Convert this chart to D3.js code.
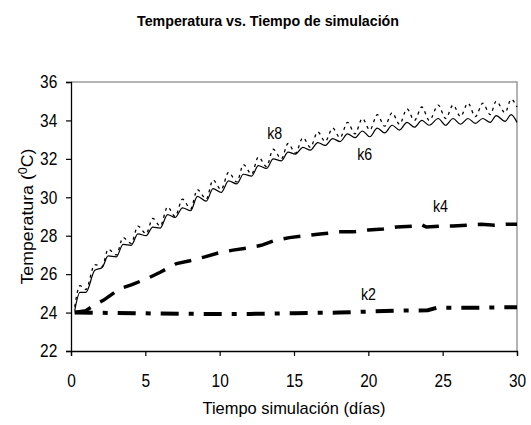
<!DOCTYPE html>
<html>
<head>
<meta charset="utf-8">
<script src="https://cdn.jsdelivr.net/npm/d3@7"></script>
<style>
  body { margin: 0; background: #fff; }
  text { font-family: "Liberation Sans", Arial, sans-serif; fill: #000; }
</style>
</head>
<body>
<div id="chart"></div>
<script>
// Days for the two thin curves (k6, k8)
var dayFine = [0.25, 0.6, 1.0, 1.6, 2.1, 2.5, 3.05, 3.5, 4.05, 4.5, 5.05, 5.5, 6.0, 6.5, 7.0, 7.5,
  8.05, 8.5, 9.1, 9.55, 10.1, 10.6, 11.15, 11.6, 12.15, 12.6, 13.15, 13.6, 14.15, 14.6, 15.1, 15.6,
  16.1, 16.6, 17.1, 17.6, 18.1, 18.6, 19.1, 19.6, 20.1, 20.6, 21.1, 21.6, 22.1, 22.6, 23.1, 23.6,
  24.1, 24.7, 25.2, 25.7, 26.2, 26.7, 27.2, 27.7, 28.2, 28.6, 29.2, 29.6, 30];
var k6 = [24.1, 25.05, 25.05, 26.2, 26.35, 26.95, 26.9, 27.55, 27.5, 28.1, 28.0, 28.45, 28.4, 29.1, 28.95, 29.45,
  29.3, 30.05, 29.8, 30.45, 30.25, 30.85, 30.7, 31.2, 31.1, 31.65, 31.5, 32.0, 31.9, 32.35, 32.25, 32.6,
  32.45, 32.85, 32.7, 33.05, 32.9, 33.3, 33.1, 33.45, 33.15, 33.6, 33.35, 33.75, 33.5, 33.9, 33.65, 34.0,
  33.75, 34.1, 33.75, 34.1, 33.8, 34.1, 33.85, 34.1, 33.9, 34.25, 33.95, 34.3, 33.9];
var k8 = [24.3, 25.4, 25.2, 26.5, 26.4, 27.3, 27.0, 27.9, 27.6, 28.5, 28.1, 28.9, 28.5, 29.5, 29.0, 29.9,
  29.4, 30.4, 29.9, 30.9, 30.4, 31.3, 30.8, 31.7, 31.2, 32.1, 31.6, 32.5, 32.0, 32.8, 32.3, 33.1,
  32.6, 33.4, 32.9, 33.6, 33.1, 33.9, 33.3, 34.1, 33.5, 34.3, 33.7, 34.4, 33.8, 34.6, 34.0, 34.7,
  34.0, 34.8, 34.1, 34.8, 34.2, 34.9, 34.2, 34.9, 34.3, 35.0, 34.4, 35.1, 34.7];

var dayK4 = [0.25, 1.0, 1.5, 2.2, 3.3, 4.1, 5.2, 6.0, 7.1, 8.0, 9.0, 9.9, 10.9, 11.8, 12.8, 13.7, 14.7,
  15.8, 16.9, 18.1, 19.0, 20.0, 21.0, 21.9, 23.0, 23.5, 23.9, 24.8, 25.7, 26.6, 27.6, 28.5, 29.3, 30];
var k4 = [24.0, 24.1, 24.35, 24.65, 25.25, 25.45, 25.8, 26.1, 26.55, 26.7, 26.9, 27.1, 27.25, 27.35, 27.5, 27.75, 27.9,
  28.0, 28.1, 28.2, 28.2, 28.3, 28.35, 28.45, 28.5, 28.6, 28.45, 28.5, 28.5, 28.55, 28.6, 28.55, 28.6, 28.6];

var dayK2 = [0.25, 3, 6, 9, 12, 15, 18, 20, 22, 24, 24.6, 27, 30];
var k2 = [24.0, 23.98, 23.95, 23.93, 23.93, 23.97, 24.0, 24.05, 24.1, 24.12, 24.25, 24.25, 24.28];

var xTicks = [0, 5, 10, 15, 20, 25, 30];
var yTicks = [22, 24, 26, 28, 30, 32, 34, 36];

var width = 531, height = 425;
var margin = {top: 82, left: 71, right: 14, bottom: 74};

var svg = d3.select("#chart").append("svg")
  .attr("width", width)
  .attr("height", height);

var x = d3.scaleLinear().domain([0, 30]).range([margin.left, width - margin.right]);
var y = d3.scaleLinear().domain([22, 36]).range([height - margin.bottom, margin.top]);

// grey frame on top and right
svg.append("path")
  .attr("d", "M" + x(0) + "," + y(36) + "H" + x(30) + "V" + y(22))
  .attr("fill", "none")
  .attr("stroke", "#9a9a9a")
  .attr("stroke-width", 1.5);

// axes
var xAxis = svg.append("g")
  .attr("transform", "translate(0," + y(22) + ")")
  .call(d3.axisBottom(x).tickValues(xTicks).tickSize(5).tickPadding(18));
var yAxis = svg.append("g")
  .attr("transform", "translate(" + x(0) + ",0)")
  .call(d3.axisLeft(y).tickValues(yTicks).tickSize(5).tickPadding(3));

[xAxis, yAxis].forEach(function(g) {
  g.select(".domain").attr("stroke", "#000").attr("stroke-width", 1.3);
  g.selectAll(".tick line").attr("stroke", "#000").attr("stroke-width", 1.2);
  g.selectAll(".tick text")
    .style("font-family", "'Liberation Sans', Arial, sans-serif")
    .style("font-size", "18px")
    .attr("fill", "#000")
    .attr("transform", "scale(0.86,1)");
});
// the scale pulls left-axis labels toward the axis, push them back out
yAxis.selectAll(".tick text").attr("x", -16);

function lineFor(days, curve) {
  return d3.line()
    .x(function(d, i) { return x(days[i]); })
    .y(function(d) { return y(d); })
    .curve(curve || d3.curveLinear);
}

// k2 dash-dot
svg.append("path")
  .datum(k2)
  .attr("d", lineFor(dayK2))
  .attr("fill", "none")
  .attr("stroke", "#000")
  .attr("stroke-width", 4)
  .attr("stroke-dasharray", "18,10,5,10");

// k4 dashed
svg.append("path")
  .datum(k4)
  .attr("d", lineFor(dayK4))
  .attr("fill", "none")
  .attr("stroke", "#000")
  .attr("stroke-width", 3.5)
  .attr("stroke-dasharray", "17,11");

// k8 fine dashes
svg.append("path")
  .datum(k8)
  .attr("d", lineFor(dayFine, d3.curveMonotoneX))
  .attr("fill", "none")
  .attr("stroke", "#000")
  .attr("stroke-width", 1.3)
  .attr("stroke-dasharray", "3,4");

// k6 solid
svg.append("path")
  .datum(k6)
  .attr("d", lineFor(dayFine, d3.curveMonotoneX))
  .attr("fill", "none")
  .attr("stroke", "#000")
  .attr("stroke-width", 1.2);

// series labels
var labels = [
  {t: "k8", day: 13.2, temp: 33.03},
  {t: "k6", day: 19.25, temp: 31.94},
  {t: "k4", day: 24.35, temp: 29.23},
  {t: "k2", day: 19.5, temp: 24.64}
];
svg.selectAll(".lbl")
  .data(labels)
  .enter().append("text")
  .attr("class", "lbl")
  .attr("x", function(d) { return x(d.day); })
  .attr("y", function(d) { return y(d.temp); })
  .attr("textLength", 15)
  .attr("lengthAdjust", "spacingAndGlyphs")
  .style("font-size", "16px")
  .text(function(d) { return d.t; });

// title
svg.append("text")
  .attr("x", 268)
  .attr("y", 26)
  .attr("text-anchor", "middle")
  .attr("textLength", 262)
  .attr("lengthAdjust", "spacingAndGlyphs")
  .style("font-size", "15px")
  .style("font-weight", "bold")
  .text("Temperatura vs. Tiempo de simulación");

// x title
svg.append("text")
  .attr("x", 294)
  .attr("y", 414)
  .attr("text-anchor", "middle")
  .attr("textLength", 183)
  .attr("lengthAdjust", "spacingAndGlyphs")
  .style("font-size", "17px")
  .text("Tiempo simulación (días)");

// y title
var yt = svg.append("text")
  .attr("transform", "translate(33," + ((y(22) + y(36)) / 2) + ") rotate(-90)")
  .attr("text-anchor", "middle")
  .attr("textLength", 136)
  .attr("lengthAdjust", "spacingAndGlyphs")
  .style("font-size", "17px");
yt.append("tspan").text("Temperatura (");
yt.append("tspan").attr("dy", -6).style("font-size", "12px").text("0");
yt.append("tspan").attr("dy", 6).text("C)");
</script>
</body>
</html>
